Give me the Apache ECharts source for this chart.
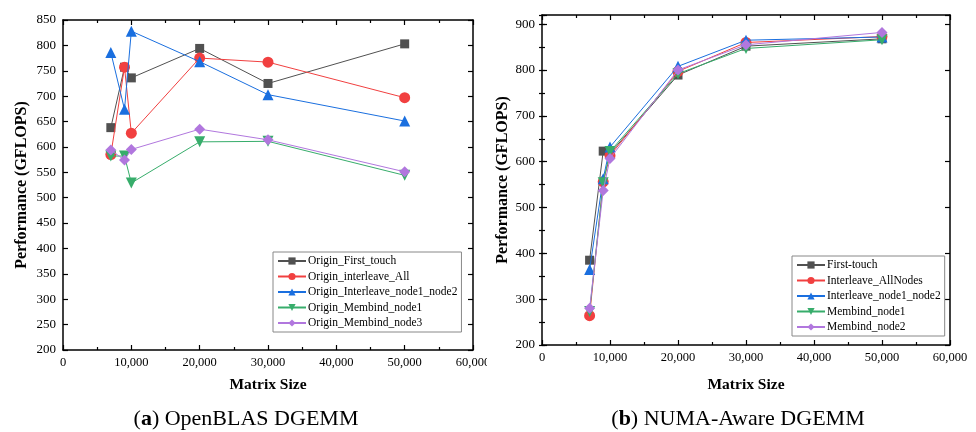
<!DOCTYPE html>
<html><head><meta charset="utf-8">
<script src="https://cdn.jsdelivr.net/npm/echarts@6/dist/echarts.min.js"></script>
<style>html,body{margin:0;padding:0;background:#fff}#c{width:976px;height:432px}</style>
</head><body><div id="c"></div>
<script>
// ---- data ----
var sizesA = [7000, 9000, 10000, 20000, 30000, 50000];
var namesA = ['Origin_First_touch', 'Origin_interleave_All', 'Origin_Interleave_node1_node2', 'Origin_Membind_node1', 'Origin_Membind_node3'];
var a_firstTouch   = [638, 757, 736, 794, 725, 803];
var a_interleave   = [585, 757, 627, 775, 767, 697];
var a_interNodes   = [786, 674, 828, 768, 703, 651];
var a_membind1     = [582, 582, 529, 610, 611, 544];
var a_membind3     = [594, 574, 595, 635, 614, 551];

var sizesB = [7000, 9000, 10000, 20000, 30000, 50000];
var namesB = ['First-touch', 'Interleave_AllNodes', 'Interleave_node1_node2', 'Membind_node1', 'Membind_node2'];
var b_firstTouch   = [385, 623, 618, 789, 852, 868];
var b_interleave   = [264, 556, 613, 797, 860, 873];
var b_interNodes   = [365, 563, 632, 808, 865, 872];
var b_membind1     = [273, 554, 622, 792, 847, 866];
var b_membind2     = [280, 537, 607, 800, 855, 882];

var colors = ['#515151', '#F14040', '#1A6FDF', '#37AD6B', '#B177DE'];
var symbols = ['rect', 'circle', 'triangle', 'path://M0,0 L10,0 L5,10 Z', 'diamond'];
var symSizes = [9, 11, 11, 11, 11];

var chart = echarts.init(document.getElementById('c'));
var font = 'Liberation Serif';

function pair(x, y) { return x.map(function (v, i) { return [v, y[i]]; }); }
function mkSeries(names, xs, arrs, axisIdx) {
  return names.map(function (n, i) {
    return {
      name: n, type: 'line', xAxisIndex: axisIdx, yAxisIndex: axisIdx,
      data: pair(xs, arrs[i]), symbol: symbols[i], symbolSize: symSizes[i],
      z: 2 + i,
      itemStyle: { color: colors[i] }, lineStyle: { color: colors[i], width: 1 }
    };
  });
}
var fmt = function (v) { return v.toLocaleString('en-US'); };
var lineStyle = { color: '#000', width: 1.5 };
var tickStyle = { color: '#000', width: 1.2 };

function xAxisPair(grid, gap) {
  var base = {
    type: 'value', gridIndex: grid, min: 0, max: 60000, interval: 10000,
    axisLine: { show: true, onZero: false, lineStyle: lineStyle },
    axisTick: { show: true, inside: true, length: 5, lineStyle: tickStyle },
    minorTick: { show: true, splitNumber: 2, length: 3, lineStyle: tickStyle },
    splitLine: { show: false }
  };
  var bottom = Object.assign({}, base, {
    position: 'bottom',
    axisLabel: { fontFamily: font, fontSize: 12.5, color: '#000', formatter: fmt, margin: 6 },
    name: 'Matrix Size', nameLocation: 'middle', nameGap: gap,
    nameTextStyle: { fontFamily: font, fontSize: 15.5, fontWeight: 'bold', color: '#000' }
  });
  var top = Object.assign({}, base, { position: 'top', axisLabel: { show: false } });
  return [bottom, top];
}
function yAxisBase(grid, min, max, interval, len) {
  return {
    type: 'value', gridIndex: grid, min: min, max: max, interval: interval,
    axisLine: { show: true, onZero: false, lineStyle: lineStyle },
    axisTick: { show: true, inside: true, length: len, lineStyle: tickStyle },
    splitLine: { show: false }
  };
}
function yMain(grid, min, max, interval, gap) {
  var left = Object.assign(yAxisBase(grid, min, max, interval, 5), {
    position: 'left',
    axisLabel: { fontFamily: font, fontSize: 13, color: '#000', margin: 7,
      formatter: function (v) { return v % interval === 0 ? String(v) : ''; } },
    name: 'Performance (GFLOPS)', nameLocation: 'middle', nameGap: gap,
    nameTextStyle: { fontFamily: font, fontSize: 16, fontWeight: 'bold', color: '#000' }
  });
  var right = Object.assign(yAxisBase(grid, min, max, interval, 5), { position: 'right', axisLabel: { show: false } });
  return [left, right];
}
var xa = xAxisPair(0, 27), xb = xAxisPair(1, 32);
var ya = yMain(0, 200, 850, 50, 33);
var yb = yMain(1, 200, 920, 100, 31);
var ybMinorL = Object.assign(yAxisBase(1, 200, 920, 50, 3), { position: 'left', axisLine: { show: false }, axisLabel: { show: false } });
var ybMinorR = Object.assign(yAxisBase(1, 200, 920, 50, 3), { position: 'right', axisLine: { show: false }, axisLabel: { show: false } });

var legendBase = {
  orient: 'vertical', itemWidth: 28, itemHeight: 9, itemGap: 3.5,
  borderColor: '#888', borderWidth: 1, backgroundColor: '#fff', padding: [3, 4, 3, 4],
  textStyle: { fontFamily: font, fontSize: 11.5, color: '#000', padding: [0, 0, 0, -3] }
};
var capStyle = { fontFamily: font, fontSize: 22, fontWeight: 'normal', color: '#000',
  rich: { b: { fontFamily: font, fontSize: 22, fontWeight: 'bold', color: '#000' } } };

var option = {
  animation: false,
  backgroundColor: '#fff',
  grid: [
    { left: 63, top: 20, width: 410, height: 330 },
    { left: 542, top: 15, width: 408, height: 330 }
  ],
  xAxis: [xa[0], xb[0], xa[1], xb[1]],
  yAxis: [ya[0], yb[0], ya[1], yb[1], ybMinorL, ybMinorR],
  legend: [
    Object.assign({}, legendBase, { data: namesA, left: 273, top: 252 }),
    Object.assign({}, legendBase, { data: namesB, left: 792, top: 256 })
  ],
  title: [
    { text: '({b|a}) OpenBLAS DGEMM', left: 241, top: 403, textAlign: 'center', textStyle: capStyle },
    { text: '({b|b}) NUMA-Aware DGEMM', left: 733, top: 403, textAlign: 'center', textStyle: capStyle }
  ],
  graphic: [
    { type: 'rect', shape: { x: 487, y: 352, width: 14, height: 20 }, style: { fill: '#fff' }, z: 100 }
  ],
  series: mkSeries(namesA, sizesA, [a_firstTouch, a_interleave, a_interNodes, a_membind1, a_membind3], 0)
    .concat(mkSeries(namesB, sizesB, [b_firstTouch, b_interleave, b_interNodes, b_membind1, b_membind2], 1))
};
chart.setOption(option);
</script>
</body></html>
